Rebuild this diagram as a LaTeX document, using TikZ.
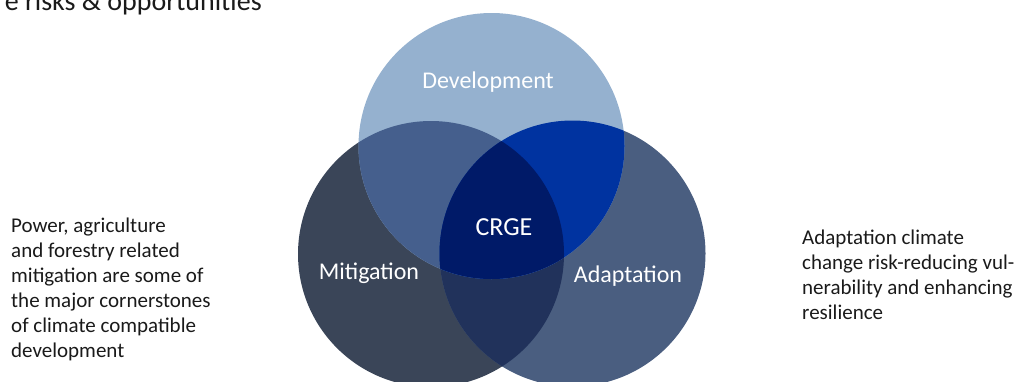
\documentclass[tikz,border=0pt]{standalone}
\usepackage{fontspec}
\setmainfont{Carlito}
\definecolor{cT}{HTML}{95B1CF}
\definecolor{cL}{HTML}{3A4558}
\definecolor{cR}{HTML}{4A5E80}
\definecolor{cTL}{HTML}{455F8D}
\definecolor{cTR}{HTML}{0033A0}
\definecolor{cLR}{HTML}{21325B}
\definecolor{cC}{HTML}{001A68}
\definecolor{txt}{HTML}{1A1A1A}
\begin{document}
\begin{tikzpicture}[x=1pt,y=-1pt,
  lab/.style={text=white,inner sep=0pt,font=\fontsize{24}{28}\selectfont},
  para/.style={text=txt,inner sep=0pt,align=left,font=\fontsize{21}{25}\selectfont}]
\useasboundingbox (0,0) rectangle (1019,381);
\begin{scope}
\clip (0,0) rectangle (1019,381);
\def\rr{133}
\coordinate (ct) at (491.5,146);
\coordinate (cl) at (431,254);
\coordinate (cr) at (572.5,253.5);
\fill[cL] (cl) circle (\rr);
\fill[cR] (cr) circle (\rr);
\begin{scope}\clip (cl) circle (\rr); \fill[cLR] (cr) circle (\rr);\end{scope}
\fill[cT] (ct) circle (\rr);
\begin{scope}\clip (ct) circle (\rr); \fill[cTL] (cl) circle (\rr); \fill[cTR] (cr) circle (\rr);
  \clip (cl) circle (\rr); \fill[cC] (cr) circle (\rr);\end{scope}
\node[text=txt,inner sep=0pt,anchor=base east,font=\fontsize{28}{32}\selectfont] (title) at (262,10) {e risks \& opportunities};
\end{scope}
\node[lab] (dev) at (488,82) {Development};
\node[lab,font=\fontsize{26}{30}\selectfont] (crge) at (504,227) {CRGE};
\node[lab] (mit) at (369,273) {Mitigation};
\node[lab] (ada) at (628,276) {Adaptation};
\node[para,anchor=north west] (lt) at (11,218) {Power, agriculture\\and forestry related\\mitigation are some of\\the major cornerstones\\of climate compatible\\development};
\node[para,anchor=north west] (rt) at (802,230) {Adaptation climate\\change risk-reducing vul-\\nerability and enhancing\\resilience};
\end{tikzpicture}
\end{document}
